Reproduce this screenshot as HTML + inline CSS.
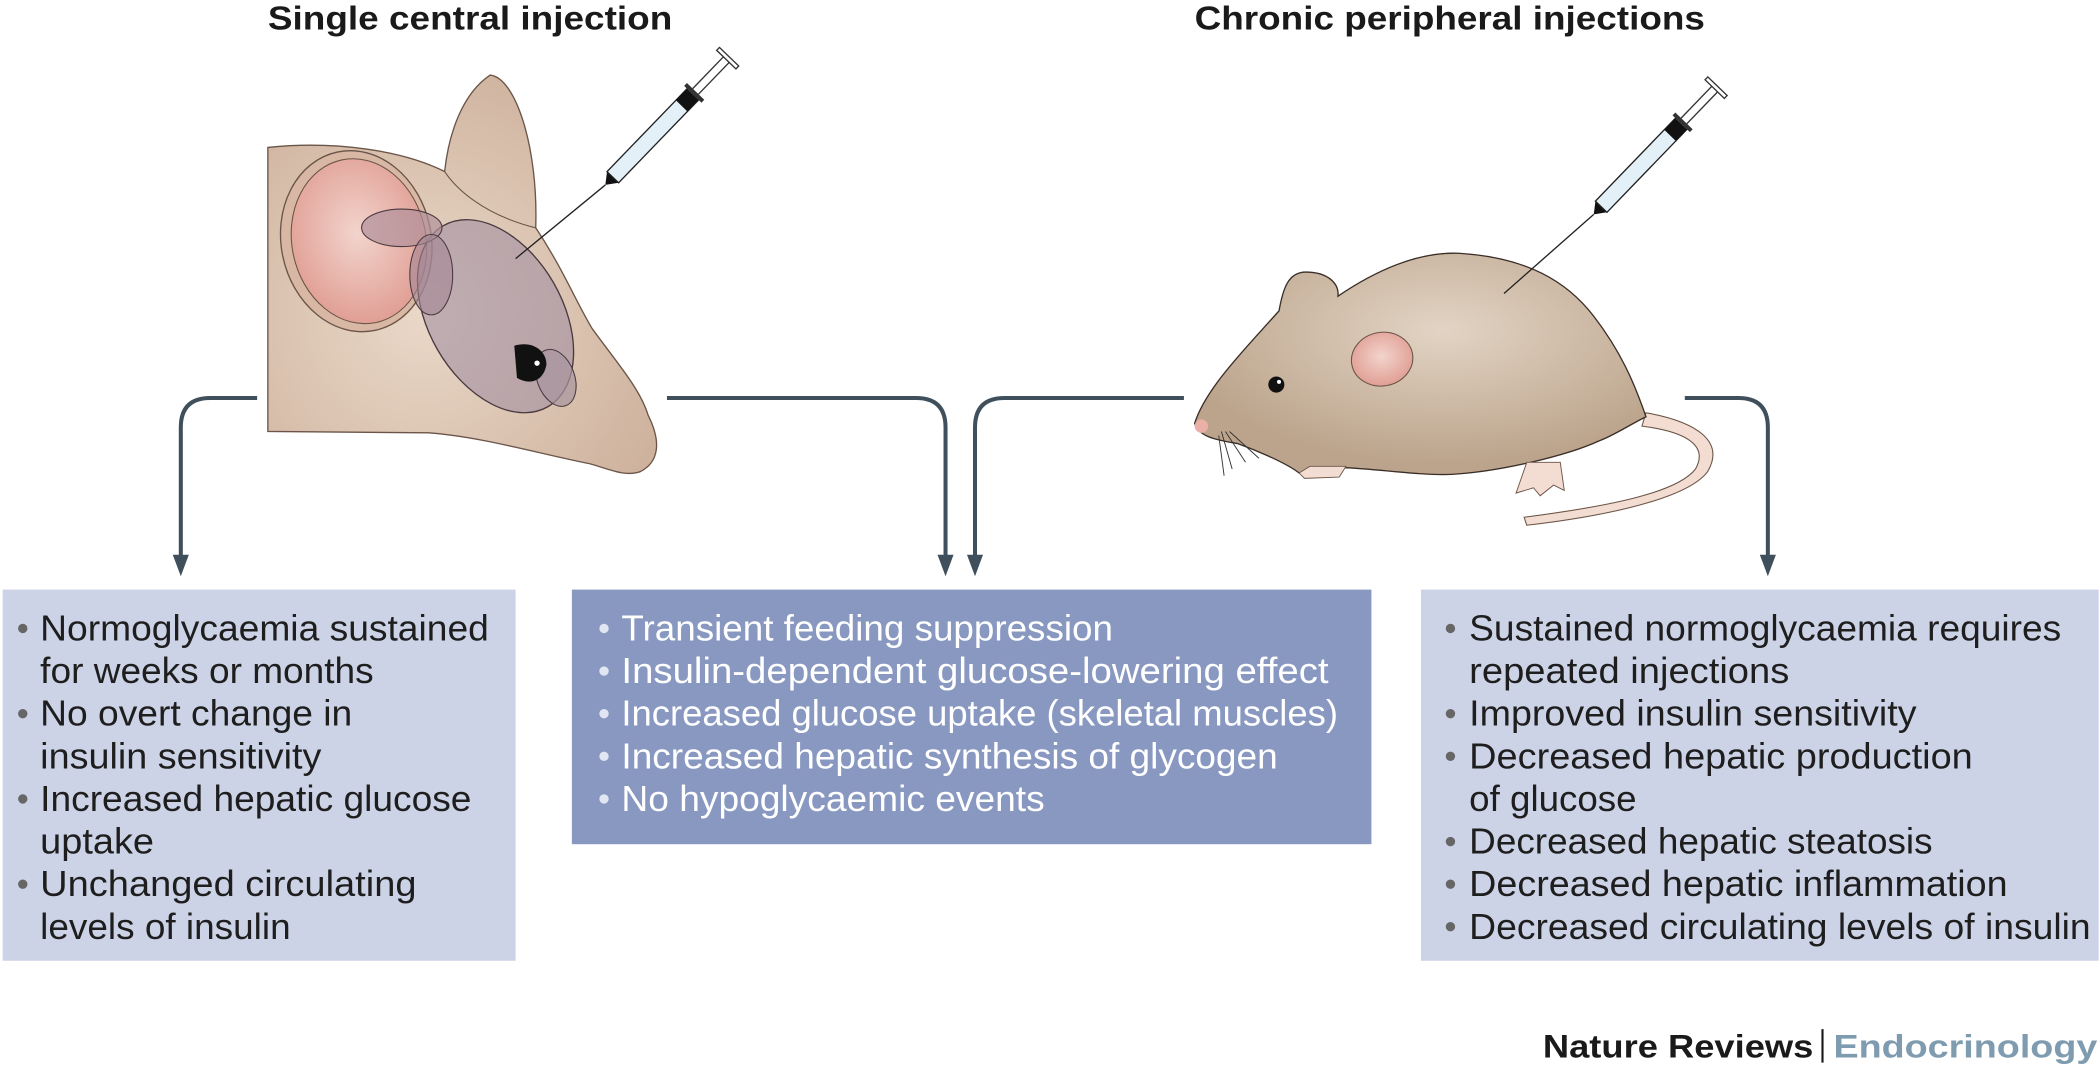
<!DOCTYPE html>
<html><head><meta charset="utf-8"><style>
html,body{margin:0;padding:0;background:#fff;}
svg{display:block;}
text{font-family:"Liberation Sans",sans-serif;}
</style></head><body>
<svg width="2100" height="1072" viewBox="0 0 1568 800" preserveAspectRatio="none" xmlns="http://www.w3.org/2000/svg">
<defs>
<radialGradient id="skin" cx="0.4" cy="0.6" r="0.7"><stop offset="0" stop-color="#ead8c8"/><stop offset="1" stop-color="#cdb19c"/></radialGradient>
<radialGradient id="body" cx="0.55" cy="0.35" r="0.6"><stop offset="0" stop-color="#e2d4c4"/><stop offset="1" stop-color="#bca48c"/></radialGradient>
<radialGradient id="pink" cx="0.5" cy="0.45" r="0.6"><stop offset="0" stop-color="#f2d4cc"/><stop offset="1" stop-color="#df9a90"/></radialGradient>
</defs>

<!-- titles -->
<text x="200" y="22" font-size="25" font-weight="bold" fill="#1a1a1a" textLength="302" lengthAdjust="spacingAndGlyphs">Single central injection</text>
<text x="892" y="22" font-size="25" font-weight="bold" fill="#1a1a1a" textLength="381" lengthAdjust="spacingAndGlyphs">Chronic peripheral injections</text>

<!-- mouse head (left) -->
<path d="M200,110 C250,105 300,112 332,128 C335,100 345,70 366,56 C385,58 402,110 400,170 C420,200 430,225 442,245 C460,270 478,290 484,310 C494,330 492,345 478,352 C466,356 455,350 440,346 C400,338 360,326 320,323 L200,322 Z" fill="url(#skin)" stroke="#6b5548" stroke-width="1"/>
<path d="M332,128 C340,140 360,160 400,170" fill="none" stroke="#6b5548" stroke-width="0.8"/>
<!-- pink ear -->
<ellipse cx="266" cy="180" rx="56" ry="68" transform="rotate(-12 266 180)" fill="#d8b8a4" stroke="#6b5548" stroke-width="1"/>
<ellipse cx="268" cy="180" rx="50" ry="62" transform="rotate(-12 268 180)" fill="url(#pink)" stroke="#6b5548" stroke-width="0.8"/>
<!-- brain -->
<ellipse cx="370" cy="236" rx="50" ry="78" transform="rotate(-30 370 236)" fill="#9c8aa0" fill-opacity="0.55" stroke="#4a3a40" stroke-width="1"/>
<ellipse cx="300" cy="170" rx="30" ry="14" fill="#b0909a" fill-opacity="0.7" stroke="#4a3a40" stroke-width="0.8"/>
<ellipse cx="322" cy="205" rx="16" ry="30" fill="#a48692" fill-opacity="0.6" stroke="#4a3a40" stroke-width="0.8"/>
<ellipse cx="415" cy="282" rx="14" ry="22" transform="rotate(-20 415 282)" fill="#a8949e" fill-opacity="0.7" stroke="#4a3a40" stroke-width="0.8"/>
<path d="M384,258 C398,254 408,262 408,272 C406,284 396,288 386,282 Z" fill="#111"/>
<circle cx="401" cy="271" r="2" fill="#fff"/>
<!-- syringe left -->
<line x1="385" y1="193" x2="452" y2="138" stroke="#222" stroke-width="1"/>
<g transform="translate(452,138) rotate(-46)">
<polygon points="0,0 8,-6 8,6" fill="#111"/>
<rect x="8" y="-6" width="88" height="12" fill="#e4f0f8" stroke="#222" stroke-width="1"/>
<rect x="82" y="-6" width="12" height="12" fill="#111"/>
<rect x="94" y="-9" width="3" height="18" fill="#333"/>
<line x1="97" y1="-3" x2="130" y2="-3" stroke="#333" stroke-width="1"/>
<line x1="97" y1="3" x2="130" y2="3" stroke="#333" stroke-width="1"/>
<rect x="130" y="-10" width="3" height="20" fill="#fff" stroke="#333" stroke-width="1"/>
</g>

<!-- full mouse (right) -->
<path d="M1140,392 C1200,385 1260,372 1275,352 C1288,330 1268,315 1229,308 L1226,318 C1258,322 1276,332 1266,350 C1252,368 1200,378 1138,386 Z" fill="#f3ddd2" stroke="#6b5548" stroke-width="0.8"/>
<path d="M892,316 C900,290 930,260 955,232 C958,215 962,203 975,203 C992,203 1000,212 999,221 C1030,200 1060,188 1089,189 C1140,192 1170,210 1190,236 C1210,262 1220,285 1229,311 C1215,318 1205,325 1194,329 C1170,340 1120,352 1084,354 C1060,355 1030,350 1004,349 C990,352 978,356 970,353 C960,345 935,335 924,331 C905,328 895,325 892,316 Z" fill="url(#body)" stroke="#3a2e28" stroke-width="1"/>
<ellipse cx="1032" cy="268" rx="23" ry="20" transform="rotate(-10 1032 268)" fill="url(#pink)" stroke="#6b5548" stroke-width="0.8"/>
<circle cx="953" cy="287" r="6" fill="#111"/><circle cx="955" cy="285" r="1.5" fill="#fff"/>
<circle cx="897" cy="318" r="5" fill="#eab0a8"/>
<path d="M912,322 L920,350 M915,322 L930,345 M918,322 L940,342 M910,325 L914,355" stroke="#333" stroke-width="0.7" fill="none"/>
<path d="M970,353 L978,348 L1005,348 L1000,356 L974,357 Z" fill="#f3ddd2" stroke="#6b5548" stroke-width="0.7"/>
<path d="M1140,345 L1132,368 L1145,364 L1150,370 L1160,362 L1168,366 L1165,345 Z" fill="#f3ddd2" stroke="#6b5548" stroke-width="0.7"/>
<!-- syringe right -->
<line x1="1123" y1="219" x2="1190" y2="160" stroke="#222" stroke-width="1"/>
<g transform="translate(1190,160) rotate(-46)">
<polygon points="0,0 8,-6 8,6" fill="#111"/>
<rect x="8" y="-6" width="88" height="12" fill="#e4f0f8" stroke="#222" stroke-width="1"/>
<rect x="82" y="-6" width="12" height="12" fill="#111"/>
<rect x="94" y="-9" width="3" height="18" fill="#333"/>
<line x1="97" y1="-3" x2="130" y2="-3" stroke="#333" stroke-width="1"/>
<line x1="97" y1="3" x2="130" y2="3" stroke="#333" stroke-width="1"/>
<rect x="130" y="-10" width="3" height="20" fill="#fff" stroke="#333" stroke-width="1"/>
</g>

<!-- connectors -->
<g fill="none" stroke="#3f505c" stroke-width="3">
<path d="M192,297 H157 Q135,297 135,319 V416"/>
<path d="M498,297 H684 Q706,297 706,319 V416"/>
<path d="M884,297 H750 Q728,297 728,319 V416"/>
<path d="M1258,297 H1298 Q1320,297 1320,319 V416"/>
</g>
<g fill="#3f505c">
<polygon points="129,414 141,414 135,430"/>
<polygon points="700,414 712,414 706,430"/>
<polygon points="722,414 734,414 728,430"/>
<polygon points="1314,414 1326,414 1320,430"/>
</g>

<!-- boxes -->
<rect x="2" y="440" width="383" height="277" fill="#cdd3e6"/>
<rect x="427" y="440" width="597" height="190" fill="#8898c1"/>
<rect x="1061" y="440" width="506" height="277" fill="#cdd3e6"/>

<g font-size="27" fill="#1e1e1e">
<g fill="#666"><circle cx="17" cy="469" r="3.5"/><circle cx="17" cy="532.6" r="3.5"/><circle cx="17" cy="596.2" r="3.5"/><circle cx="17" cy="659.8" r="3.5"/></g>
<text x="30" y="478" textLength="335" lengthAdjust="spacingAndGlyphs">Normoglycaemia sustained</text>
<text x="30" y="509.8" textLength="249" lengthAdjust="spacingAndGlyphs">for weeks or months</text>
<text x="30" y="541.6" textLength="233" lengthAdjust="spacingAndGlyphs">No overt change in</text>
<text x="30" y="573.4" textLength="210" lengthAdjust="spacingAndGlyphs">insulin sensitivity</text>
<text x="30" y="605.2" textLength="322" lengthAdjust="spacingAndGlyphs">Increased hepatic glucose</text>
<text x="30" y="637" textLength="85" lengthAdjust="spacingAndGlyphs">uptake</text>
<text x="30" y="668.8" textLength="281" lengthAdjust="spacingAndGlyphs">Unchanged circulating</text>
<text x="30" y="700.6" textLength="187" lengthAdjust="spacingAndGlyphs">levels of insulin</text>
</g>

<g font-size="27" fill="#ffffff">
<g fill="#e2e6f2"><circle cx="451" cy="469" r="3.5"/><circle cx="451" cy="500.8" r="3.5"/><circle cx="451" cy="532.6" r="3.5"/><circle cx="451" cy="564.4" r="3.5"/><circle cx="451" cy="596.2" r="3.5"/></g>
<text x="464" y="478" textLength="367" lengthAdjust="spacingAndGlyphs">Transient feeding suppression</text>
<text x="464" y="509.8" textLength="528" lengthAdjust="spacingAndGlyphs">Insulin-dependent glucose-lowering effect</text>
<text x="464" y="541.6" textLength="535" lengthAdjust="spacingAndGlyphs">Increased glucose uptake (skeletal muscles)</text>
<text x="464" y="573.4" textLength="490" lengthAdjust="spacingAndGlyphs">Increased hepatic synthesis of glycogen</text>
<text x="464" y="605.2" textLength="316" lengthAdjust="spacingAndGlyphs">No hypoglycaemic events</text>
</g>

<g font-size="27" fill="#1e1e1e">
<g fill="#666"><circle cx="1083" cy="469" r="3.5"/><circle cx="1083" cy="532.6" r="3.5"/><circle cx="1083" cy="564.4" r="3.5"/><circle cx="1083" cy="628" r="3.5"/><circle cx="1083" cy="659.8" r="3.5"/><circle cx="1083" cy="691.6" r="3.5"/></g>
<text x="1097" y="478" textLength="442" lengthAdjust="spacingAndGlyphs">Sustained normoglycaemia requires</text>
<text x="1097" y="509.8" textLength="239" lengthAdjust="spacingAndGlyphs">repeated injections</text>
<text x="1097" y="541.6" textLength="334" lengthAdjust="spacingAndGlyphs">Improved insulin sensitivity</text>
<text x="1097" y="573.4" textLength="376" lengthAdjust="spacingAndGlyphs">Decreased hepatic production</text>
<text x="1097" y="605.2" textLength="125" lengthAdjust="spacingAndGlyphs">of glucose</text>
<text x="1097" y="637" textLength="346" lengthAdjust="spacingAndGlyphs">Decreased hepatic steatosis</text>
<text x="1097" y="668.8" textLength="402" lengthAdjust="spacingAndGlyphs">Decreased hepatic inflammation</text>
<text x="1097" y="700.6" textLength="464" lengthAdjust="spacingAndGlyphs">Decreased circulating levels of insulin</text>
</g>

<!-- footer -->
<text x="1152" y="789" font-size="24" font-weight="bold" fill="#1a1a1a" textLength="202" lengthAdjust="spacingAndGlyphs">Nature Reviews</text>
<rect x="1360" y="768" width="1.6" height="25" fill="#1a1a1a"/>
<text x="1369" y="789" font-size="24" font-weight="bold" fill="#7f9bb0" textLength="197" lengthAdjust="spacingAndGlyphs">Endocrinology</text>
</svg>
</body></html>
